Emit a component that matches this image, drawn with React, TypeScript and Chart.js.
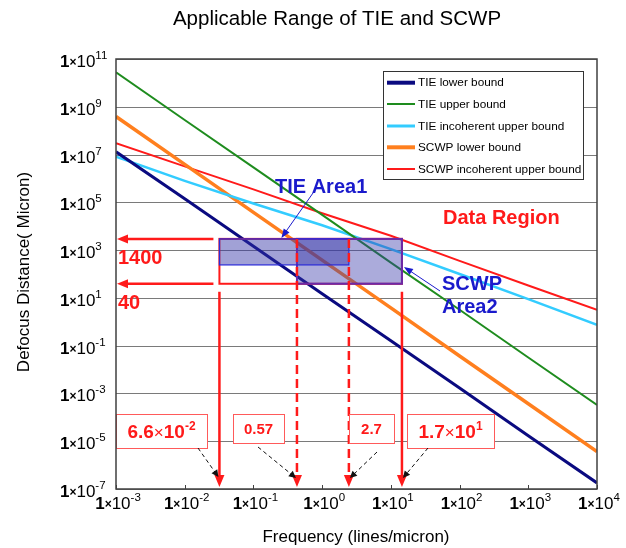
import React, { useEffect, useRef } from 'react';
import { Chart, registerables } from 'chart.js';
Chart.register(...registerables);

// ---- data ----
const frequencies = [1e-3, 1e-2, 1e-1, 1, 10, 100, 1e3, 1e4];
const tieLowerBound = [1.3e7, 1.4e5, 1.45e3, 15, 0.16, 1.7e-3, 1.7e-5, 1.8e-7];
const tieUpperBound = [2.75e10, 2.8e8, 2.9e6, 3.0e4, 300, 3.2, 0.032, 3.3e-4];
const tieIncoherentUpper = [8.1e6, 7.9e5, 8.9e4, 1.1e4, 1.1e3, 100, 8.9, 0.74];
const scwpLowerBound = [3.9e8, 3.9e6, 3.8e4, 380, 3.8, 0.037, 3.7e-4, 3.7e-6];
const scwpIncoherentUpper = [3.0e7, 3.2e6, 3.5e5, 3.5e4, 4.0e3, 355, 33, 3.2];

const seriesNames = [
  'TIE lower bound',
  'TIE upper bound',
  'TIE incoherent upper bound',
  'SCWP lower bound',
  'SCWP incoherent upper bound',
];
const seriesValues = [tieLowerBound, tieUpperBound, tieIncoherentUpper, scwpLowerBound, scwpIncoherentUpper];
const seriesColors = ['#0a0a80', '#1e8c1e', '#33ccff', '#ff7f1e', '#ff1a1a'];
const seriesWidths = [3, 2, 2.5, 3.5, 2];
const legendWidths = [4, 2, 3, 4, 2];

const yTickExponents = [11, 9, 7, 5, 3, 1, -1, -3, -5, -7];
const xTickExponents = [-3, -2, -1, 0, 1, 2, 3, 4];

// annotation positions (as drawn in the reference)
const rangeFreqs = [0.032, 0.43, 2.45, 14.5];
const rangeDefocus = [2950, 240, 39]; // top, TIE area bottom, SCWP area bottom
const defocusLabels = ['1400', '40'];
const freqLabelBase = ['6.6×10', '0.57', '2.7', '1.7×10'];
const freqLabelExp = ['-2', '', '', '1'];

const TITLE = 'Applicable Range of TIE and SCWP';
const X_TITLE = 'Frequency (lines/micron)';
const Y_TITLE = 'Defocus Distance( Micron)';

const FF = '"Liberation Sans", Arial, sans-serif';

type Seg = { t: string; font: string; dy: number };
function drawSegs(ctx: CanvasRenderingContext2D, segs: Seg[], x: number, y: number, align: string, color: string) {
  ctx.save();
  ctx.fillStyle = color;
  ctx.textBaseline = 'alphabetic';
  ctx.textAlign = 'left';
  let total = 0;
  const widths = segs.map((s) => {
    ctx.font = s.font;
    const w = ctx.measureText(s.t).width;
    total += w;
    return w;
  });
  let cx = align === 'left' ? x : align === 'center' ? x - total / 2 : x - total;
  segs.forEach((s, i) => {
    ctx.font = s.font;
    ctx.fillText(s.t, cx, y + s.dy);
    cx += widths[i];
  });
  ctx.restore();
}

function powSegs(exp: number): Seg[] {
  return [
    { t: '1', font: `bold 17px ${FF}`, dy: 0 },
    { t: '×', font: `bold 12px ${FF}`, dy: -1 },
    { t: '10', font: `17px ${FF}`, dy: 0 },
    { t: String(exp), font: `11.5px ${FF}`, dy: -8 },
  ];
}

function arrowHead(ctx: CanvasRenderingContext2D, tx: number, ty: number, ang: number, len: number, hw: number, color: string) {
  ctx.save();
  ctx.fillStyle = color;
  ctx.translate(tx, ty);
  ctx.rotate(ang);
  ctx.beginPath();
  ctx.moveTo(0, 0);
  ctx.lineTo(-len, -hw);
  ctx.lineTo(-len, hw);
  ctx.closePath();
  ctx.fill();
  ctx.restore();
}

function arrow(ctx: CanvasRenderingContext2D, x1: number, y1: number, x2: number, y2: number, color: string, lw: number, dash: number[], len: number, hw: number) {
  const ang = Math.atan2(y2 - y1, x2 - x1);
  ctx.save();
  ctx.strokeStyle = color;
  ctx.lineWidth = lw;
  ctx.setLineDash(dash);
  ctx.beginPath();
  ctx.moveTo(x1, y1);
  ctx.lineTo(x2 - Math.cos(ang) * len * 0.8, y2 - Math.sin(ang) * len * 0.8);
  ctx.stroke();
  ctx.restore();
  arrowHead(ctx, x2, y2, ang, len, hw, color);
}

const decorPlugin = {
  id: 'decor',
  beforeDatasetsDraw(chart: any) {
    const { ctx, chartArea: a, scales } = chart;
    const y = scales.y;
    ctx.save();
    ctx.strokeStyle = '#7a7a7a';
    ctx.lineWidth = 1;
    yTickExponents.forEach((e) => {
      const py = Math.round(y.getPixelForValue(Math.pow(10, e))) + 0.5;
      ctx.beginPath();
      ctx.moveTo(a.left, py);
      ctx.lineTo(a.right, py);
      ctx.stroke();
    });
    ctx.restore();
  },
  afterDatasetsDraw(chart: any) {
    const { ctx, chartArea: a, scales } = chart;
    const X = (v: number) => scales.x.getPixelForValue(v);
    const Y = (v: number) => scales.y.getPixelForValue(v);
    const xs = rangeFreqs.map(X);
    const yTop = Y(rangeDefocus[0]);
    const yTie = Y(rangeDefocus[1]);
    const yBot = Y(rangeDefocus[2]);
    const red = '#ff1a1a';

    // red outline of the whole region
    ctx.save();
    ctx.strokeStyle = red;
    ctx.lineWidth = 2;
    ctx.strokeRect(xs[0], yTop, xs[3] - xs[0], yBot - yTop);
    // TIE area fill
    ctx.fillStyle = 'rgba(50,50,165,0.46)';
    ctx.fillRect(xs[0], yTop, xs[2] - xs[0], yTie - yTop);
    // SCWP area fill
    ctx.fillStyle = 'rgba(55,55,170,0.42)';
    ctx.fillRect(xs[1], yTop, xs[3] - xs[1], yBot - yTop);
    ctx.strokeStyle = '#6a2aa8';
    ctx.lineWidth = 2;
    ctx.strokeRect(xs[1], yTop, xs[3] - xs[1], yBot - yTop);
    ctx.strokeStyle = '#2a2ad8';
    ctx.lineWidth = 1.2;
    ctx.strokeRect(xs[0], yTop, xs[2] - xs[0], yTie - yTop);
    ctx.restore();

    // horizontal arrows to the axis
    arrow(ctx, xs[0] - 6, yTop, a.left + 1, yTop, red, 2.5, [], 11, 4.5);
    arrow(ctx, xs[0] - 6, yBot, a.left + 1, yBot, red, 2.5, [], 11, 4.5);

    // vertical arrows
    const tip = a.bottom - 2;
    arrow(ctx, xs[0], yBot + 8, xs[0], tip, red, 2.5, [], 12, 5);
    arrow(ctx, xs[3], yBot + 8, xs[3], tip, red, 2.5, [], 12, 5);
    arrow(ctx, xs[1], yTop, xs[1], tip, red, 2.5, [9, 5], 12, 5);
    arrow(ctx, xs[2], yTop, xs[2], tip, red, 2.5, [9, 5], 12, 5);

    // value labels next to the axis
    drawSegs(ctx, [{ t: defocusLabels[0], font: `bold 20px ${FF}`, dy: 0 }], a.left + 2, yTop + 25, 'left', red);
    drawSegs(ctx, [{ t: defocusLabels[1], font: `bold 20px ${FF}`, dy: 0 }], a.left + 2, yBot + 25, 'left', red);

    // area labels
    const blue = '#1a1acc';
    drawSegs(ctx, [{ t: 'TIE Area1', font: `bold 20px ${FF}`, dy: 0 }], 275, 193, 'left', blue);
    arrow(ctx, 313, 193, xs[0] + 62, yTop - 1, blue, 1, [], 9, 3.5);
    drawSegs(ctx, [{ t: 'Data Region', font: `bold 20px ${FF}`, dy: 0 }], 443, 224, 'left', red);
    drawSegs(ctx, [{ t: 'SCWP', font: `bold 20px ${FF}`, dy: 0 }], 442, 290, 'left', blue);
    drawSegs(ctx, [{ t: 'Area2', font: `bold 20px ${FF}`, dy: 0 }], 442, 313, 'left', blue);
    arrow(ctx, 440, 291, xs[3] + 2, yTop + 28, blue, 1, [], 9, 3.5);

    // value boxes under the arrows
    const boxes = [
      [116, 414, 91, 34],
      [233, 414, 51, 29],
      [349, 414, 45, 29],
      [407, 414, 87, 34],
    ];
    boxes.forEach((b, i) => {
      ctx.save();
      ctx.fillStyle = '#ffffff';
      ctx.fillRect(b[0], b[1], b[2], b[3]);
      ctx.strokeStyle = '#ff5a5a';
      ctx.lineWidth = 1;
      ctx.strokeRect(b[0] + 0.5, b[1] + 0.5, b[2], b[3]);
      ctx.restore();
      const cx = b[0] + b[2] / 2;
      if (freqLabelExp[i]) {
        drawSegs(
          ctx,
          [
            { t: freqLabelBase[i].slice(0, 3), font: `bold 19px ${FF}`, dy: 0 },
            { t: '×', font: `17px ${FF}`, dy: 0 },
            { t: '10', font: `bold 19px ${FF}`, dy: 0 },
            { t: freqLabelExp[i], font: `bold 12px ${FF}`, dy: -8 },
          ],
          cx,
          b[1] + 24,
          'center',
          red
        );
      } else {
        drawSegs(ctx, [{ t: freqLabelBase[i], font: `bold 15px ${FF}`, dy: 0 }], cx, b[1] + 20, 'center', red);
      }
    });
    // dashed pointers
    arrow(ctx, 198, 448, xs[0] - 1, a.bottom - 12, '#111', 1, [4, 3], 7, 3.5);
    arrow(ctx, 258, 447, xs[1] - 1, a.bottom - 11, '#111', 1, [4, 3], 7, 3.5);
    arrow(ctx, 377, 452, xs[2] + 1, a.bottom - 11, '#111', 1, [4, 3], 7, 3.5);
    arrow(ctx, 428, 448, xs[3] + 1, a.bottom - 11, '#111', 1, [4, 3], 7, 3.5);

    // legend
    const lx = 383, ly = 71, lw = 200, lh = 108;
    ctx.save();
    ctx.fillStyle = '#ffffff';
    ctx.fillRect(lx, ly, lw, lh);
    ctx.strokeStyle = '#333333';
    ctx.lineWidth = 1;
    ctx.strokeRect(lx + 0.5, ly + 0.5, lw, lh);
    const rows = [82.7, 104, 126, 147.3, 169];
    seriesNames.forEach((n, i) => {
      ctx.strokeStyle = seriesColors[i];
      ctx.lineWidth = legendWidths[i];
      ctx.beginPath();
      ctx.moveTo(387, rows[i]);
      ctx.lineTo(415, rows[i]);
      ctx.stroke();
      ctx.fillStyle = '#000';
      ctx.font = `11.8px ${FF}`;
      ctx.textBaseline = 'middle';
      ctx.fillText(n, 418, rows[i] + 0.5);
    });
    ctx.restore();

    // plot frame
    ctx.save();
    ctx.strokeStyle = '#404040';
    ctx.lineWidth = 1.5;
    ctx.strokeRect(a.left, a.top, a.right - a.left, a.bottom - a.top);
    // small x ticks inside the frame
    ctx.lineWidth = 1;
    xTickExponents.forEach((e) => {
      const px = Math.round(X(Math.pow(10, e))) + 0.5;
      ctx.beginPath();
      ctx.moveTo(px, a.bottom);
      ctx.lineTo(px, a.bottom - 4);
      ctx.stroke();
    });
    ctx.restore();
  },
  afterDraw(chart: any) {
    const { ctx, scales } = chart;
    yTickExponents.forEach((e) => {
      const py = scales.y.getPixelForValue(Math.pow(10, e));
      drawSegs(ctx, powSegs(e), 60, py + 8, 'left', '#000');
    });
    xTickExponents.forEach((e) => {
      const px = scales.x.getPixelForValue(Math.pow(10, e));
      drawSegs(ctx, powSegs(e), px + 2, 509, 'center', '#000');
    });
    ctx.save();
    ctx.fillStyle = '#000';
    ctx.font = `20.5px ${FF}`;
    ctx.textAlign = 'center';
    ctx.textBaseline = 'alphabetic';
    ctx.fillText(TITLE, 337, 25);
    ctx.font = `17px ${FF}`;
    ctx.fillText(X_TITLE, 356, 542);
    ctx.translate(24, 272);
    ctx.rotate(-Math.PI / 2);
    ctx.textBaseline = 'middle';
    ctx.fillText(Y_TITLE, 0, 0);
    ctx.restore();
  },
};

export default function App() {
  const ref = useRef<HTMLCanvasElement | null>(null);
  useEffect(() => {
    if (!ref.current) return;
    const chart = new Chart(ref.current, {
      type: 'line',
      data: {
        datasets: seriesNames.map((n, i) => ({
          label: n,
          data: frequencies.map((f, j) => ({ x: f, y: seriesValues[i][j] })),
          borderColor: seriesColors[i],
          backgroundColor: seriesColors[i],
          borderWidth: seriesWidths[i],
          pointRadius: 0,
          tension: 0,
          fill: false,
        })),
      },
      options: {
        responsive: false,
        animation: false,
        events: [],
        layout: { padding: { top: 59, right: 29, left: 0, bottom: 0 } },
        plugins: { legend: { display: false }, title: { display: false }, tooltip: { enabled: false } },
        scales: {
          x: {
            type: 'logarithmic',
            min: 1e-3,
            max: 1e4,
            grid: { display: false },
            border: { display: false },
            ticks: { display: false },
            afterFit: (s: any) => {
              s.height = 59;
            },
          },
          y: {
            type: 'logarithmic',
            min: 1e-7,
            max: 1e11,
            grid: { display: false },
            border: { display: false },
            ticks: { display: false },
            afterFit: (s: any) => {
              s.width = 116;
            },
          },
        },
      } as any,
      plugins: [decorPlugin],
    });
    return () => chart.destroy();
  }, []);
  return (
    <div style={{ position: 'fixed', left: 0, top: 0, width: 626, height: 548, background: '#fff' }}>
      <canvas ref={ref} width={626} height={548} style={{ display: 'block' }} />
    </div>
  );
}
